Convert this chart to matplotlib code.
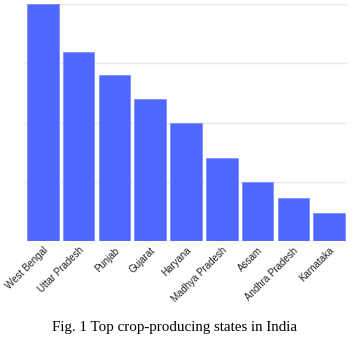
import matplotlib.pyplot as plt

# top crop-producing states (relative output)
states = ["West Bengal", "Uttar Pradesh", "Punjab", "Gujarat", "Haryana",
          "Madhya Pradesh", "Assam", "Andhra Pradesh", "Karnataka"]
output = [40, 32, 28, 24, 20, 14, 10, 7.3, 4.7]

fig = plt.figure(figsize=(3.56, 3.44), dpi=100)
ax = fig.add_axes([0.070, 0.299, 0.905, 0.689])

ax.bar(range(len(states)), output, width=0.88, color="#5068ff",
       edgecolor="#7d8fff", linewidth=0.6, zorder=3)

ax.set_xlim(-0.5, len(states) - 0.5)
ax.set_ylim(0, 40)
ax.set_yticks([0, 10, 20, 30, 40])
ax.yaxis.grid(True, color="#e8e8e8", linewidth=1.0, zorder=0)
ax.tick_params(axis="y", length=0, labelleft=False)
ax.tick_params(axis="x", length=0, pad=3)
for s in ax.spines.values():
    s.set_visible(False)

ax.set_xticks(range(len(states)))
ax.set_xticklabels(states, rotation=45, ha="right", rotation_mode="anchor",
                   fontsize=7, family="Liberation Sans", color="#222222")

fig.text(0.49, 0.038, "Fig. 1 Top crop-producing states in India",
         ha="center", va="baseline", fontsize=10.8, family="Liberation Serif")

fig.savefig("out.png", dpi=100)
